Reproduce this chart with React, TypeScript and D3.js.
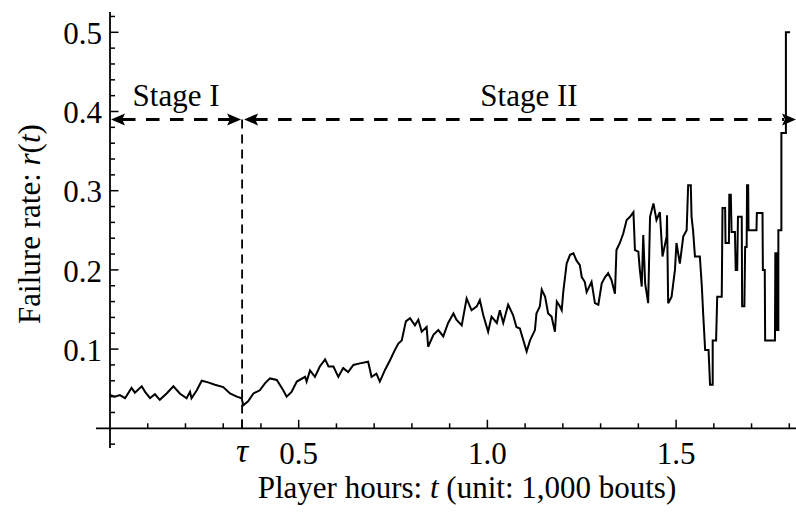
import React from "react";
import * as d3 from "d3";

// Player hours t (thousand bouts) and the estimated failure rate r(t) at each step
const tValues: number[] = [
  0, 0.013, 0.026, 0.04, 0.057, 0.066, 0.084, 0.093, 0.106, 0.119, 0.132, 0.15, 0.168, 0.185, 0.203, 0.212, 0.216, 0.23, 0.243, 0.26,
  0.278, 0.3, 0.318, 0.336, 0.349, 0.353, 0.366, 0.38, 0.397, 0.411, 0.424, 0.442, 0.459, 0.468, 0.481, 0.495, 0.517, 0.521, 0.53, 0.543,
  0.556, 0.57, 0.579, 0.592, 0.605, 0.618, 0.631, 0.645, 0.662, 0.684, 0.693, 0.706, 0.715, 0.729, 0.742, 0.755, 0.764, 0.773, 0.784, 0.795,
  0.808, 0.817, 0.826, 0.839, 0.843, 0.857, 0.87, 0.883, 0.896, 0.91, 0.918, 0.932, 0.945, 0.958, 0.972, 0.98, 0.989, 1.002, 1.011, 1.025,
  1.033, 1.042, 1.055, 1.068, 1.077, 1.086, 1.104, 1.113, 1.126, 1.13, 1.139, 1.144, 1.153, 1.161, 1.17, 1.179, 1.184, 1.192, 1.197, 1.201,
  1.21, 1.219, 1.228, 1.236, 1.245, 1.25, 1.258, 1.263, 1.276, 1.285, 1.294, 1.303, 1.312, 1.32, 1.329, 1.338, 1.342, 1.351, 1.36, 1.369,
  1.378, 1.387, 1.391, 1.4, 1.404, 1.409, 1.413, 1.418, 1.426, 1.431, 1.44, 1.448, 1.457, 1.464, 1.475, 1.476, 1.479, 1.488, 1.497, 1.501,
  1.51, 1.519, 1.528, 1.532, 1.539, 1.541, 1.545, 1.55, 1.563, 1.568, 1.572, 1.577, 1.586, 1.59, 1.597, 1.597, 1.606, 1.609, 1.621, 1.623,
  1.63, 1.631, 1.64, 1.641, 1.645, 1.647, 1.656, 1.658, 1.662, 1.664, 1.674, 1.675, 1.681, 1.683, 1.687, 1.688, 1.691, 1.692, 1.713, 1.714,
  1.729, 1.73, 1.735, 1.736, 1.762, 1.763, 1.766, 1.766, 1.771, 1.771, 1.779, 1.779, 1.791, 1.791, 1.802,
];
const rValues: number[] = [
  0.042, 0.04, 0.042, 0.038, 0.051, 0.045, 0.053, 0.046, 0.038, 0.043, 0.036, 0.044, 0.053, 0.044, 0.038, 0.046, 0.038, 0.048, 0.06, 0.058,
  0.055, 0.052, 0.044, 0.04, 0.038, 0.029, 0.034, 0.044, 0.048, 0.057, 0.063, 0.061, 0.048, 0.04, 0.046, 0.059, 0.065, 0.059, 0.073, 0.065,
  0.078, 0.087, 0.078, 0.078, 0.065, 0.076, 0.071, 0.08, 0.082, 0.084, 0.065, 0.069, 0.059, 0.074, 0.086, 0.099, 0.107, 0.111, 0.135, 0.139,
  0.13, 0.137, 0.122, 0.128, 0.103, 0.118, 0.124, 0.116, 0.133, 0.145, 0.137, 0.13, 0.164, 0.149, 0.154, 0.162, 0.143, 0.122, 0.141, 0.133,
  0.149, 0.133, 0.156, 0.143, 0.128, 0.126, 0.097, 0.111, 0.124, 0.145, 0.154, 0.175, 0.166, 0.145, 0.141, 0.122, 0.16, 0.154, 0.149, 0.172,
  0.208, 0.219, 0.221, 0.212, 0.206, 0.191, 0.185, 0.172, 0.185, 0.158, 0.156, 0.183, 0.191, 0.196, 0.187, 0.17, 0.225, 0.234, 0.246, 0.263,
  0.267, 0.273, 0.225, 0.223, 0.2, 0.179, 0.244, 0.183, 0.158, 0.267, 0.284, 0.263, 0.273, 0.217, 0.242, 0.269, 0.158, 0.166, 0.2, 0.234,
  0.208, 0.242, 0.25, 0.307, 0.307, 0.267, 0.25, 0.217, 0.217, 0.181, 0.143, 0.099, 0.099, 0.055, 0.055, 0.111, 0.111, 0.166, 0.166, 0.278,
  0.278, 0.234, 0.234, 0.295, 0.295, 0.248, 0.248, 0.2, 0.2, 0.267, 0.267, 0.154, 0.154, 0.229, 0.229, 0.307, 0.307, 0.25, 0.25, 0.272,
  0.272, 0.2, 0.2, 0.111, 0.111, 0.221, 0.221, 0.124, 0.124, 0.25, 0.25, 0.373, 0.373, 0.5, 0.5,
];

// Change point between the two stages
const tau = 0.35;
const stageArrowLevel = 0.39;

const xTickLabels: number[] = [0.5, 1.0, 1.5];
const yTickLabels: number[] = [0.1, 0.2, 0.3, 0.4, 0.5];
const stageNames: string[] = ["Stage I", "Stage II"];

const W = 796;
const H = 518;
const FONT = "'Liberation Serif', 'Times New Roman', serif";

export default function App() {
  const x = d3.scaleLinear().domain([0, 1.8]).range([110, 789.3]);
  const y = d3.scaleLinear().domain([0, 0.5]).range([428.3, 32.3]);

  const xMin = x.invert(96);
  const xMax = x.invert(W);
  const yMin = y.invert(448);
  const yMax = y.invert(12);

  const points: [number, number][] = tValues.map((t, i) => [t, rValues[i]]);
  const line = d3
    .line<[number, number]>()
    .x((d) => x(d[0]))
    .y((d) => y(d[1]));

  // minor ticks on the time axis every 0.1, majors at the labelled values and tau
  const xMinor = d3.range(1, 19).map((k) => k / 10).filter((v) => !xTickLabels.some((m) => Math.abs(m - v) < 1e-9));
  const yTicks = d3.range(-1, 27).map((k) => k * 0.02).filter((v) => Math.abs(v) > 1e-9 && v <= yMax);

  const arrowY = y(stageArrowLevel);
  const head = (xTip: number, dir: number) => {
    const len = 14;
    const hw = 6;
    const back = xTip - dir * len;
    return `M${xTip},${arrowY} L${back},${arrowY - hw} L${xTip - dir * len * 0.8},${arrowY} L${back},${arrowY + hw} Z`;
  };

  const x0 = x(0);
  const xt = x(tau);
  const xEnd = x(xMax);

  return (
    <svg
      width={W}
      height={H}
      viewBox={`0 0 ${W} ${H}`}
      style={{ position: "absolute", left: 0, top: 0, display: "block", background: "#fff" }}
      fontFamily={FONT}
    >
      <rect x={0} y={0} width={W} height={H} fill="#fff" />

      {/* axes */}
      <line x1={x(xMin)} x2={x(xMax)} y1={y(0)} y2={y(0)} stroke="#000" strokeWidth={1.8} />
      <line x1={x(0)} x2={x(0)} y1={y(yMin)} y2={y(yMax)} stroke="#000" strokeWidth={1.8} />

      {xMinor.map((v) => (
        <line key={`xm${v}`} x1={x(v)} x2={x(v)} y1={y(0)} y2={y(0) - 5} stroke="#000" strokeWidth={1.5} />
      ))}
      {[...xTickLabels, tau].map((v) => (
        <line key={`xM${v}`} x1={x(v)} x2={x(v)} y1={y(0)} y2={y(0) - 8.5} stroke="#000" strokeWidth={1.5} />
      ))}
      {yTicks.map((v) => {
        const major = Math.abs(Math.round(v * 10) - v * 10) < 1e-6;
        return (
          <line key={`y${v}`} x1={x(0)} x2={x(0) + (major ? 8.5 : 5)} y1={y(v)} y2={y(v)} stroke="#000" strokeWidth={1.5} />
        );
      })}

      {xTickLabels.map((v) => (
        <text key={`xl${v}`} x={x(v)} y={464} textAnchor="middle" fontSize={31}>
          {d3.format(".1f")(v)}
        </text>
      ))}
      <text x={xt} y={462} textAnchor="middle" fontSize={34} fontStyle="italic">
        τ
      </text>
      {yTickLabels.map((v) => (
        <text key={`yl${v}`} x={102} y={y(v)} dy="0.38em" textAnchor="end" fontSize={31}>
          {d3.format(".1f")(v)}
        </text>
      ))}

      <text x={467} y={498} textAnchor="middle" fontSize={31}>
        Player hours: <tspan fontStyle="italic">t</tspan> (unit: 1,000 bouts)
      </text>
      <text transform={`translate(40,224) rotate(-90)`} textAnchor="middle" fontSize={31}>
        Failure rate: <tspan fontStyle="italic">r</tspan>(<tspan fontStyle="italic">t</tspan>)
      </text>

      {/* stage markers */}
      <line x1={xt} x2={xt} y1={arrowY} y2={y(0)} stroke="#000" strokeWidth={1.8} strokeDasharray="9 6" />
      <line x1={x0 + 12} x2={xt - 12} y1={arrowY} y2={arrowY} stroke="#000" strokeWidth={3} strokeDasharray="13.5 10.5" />
      <line x1={xt + 12} x2={xEnd - 12} y1={arrowY} y2={arrowY} stroke="#000" strokeWidth={3} strokeDasharray="13.5 10.5" />
      <path d={head(x0 + 1, -1)} fill="#000" />
      <path d={head(xt - 1, 1)} fill="#000" />
      <path d={head(xt + 2, -1)} fill="#000" />
      <path d={head(xEnd, 1)} fill="#000" />
      <text x={(x0 + xt) / 2} y={106} textAnchor="middle" fontSize={31}>
        {stageNames[0]}
      </text>
      <text x={529} y={106} textAnchor="middle" fontSize={31}>
        {stageNames[1]}
      </text>

      <path d={line(points) ?? ""} fill="none" stroke="#000" strokeWidth={2} strokeLinejoin="miter" />
    </svg>
  );
}
